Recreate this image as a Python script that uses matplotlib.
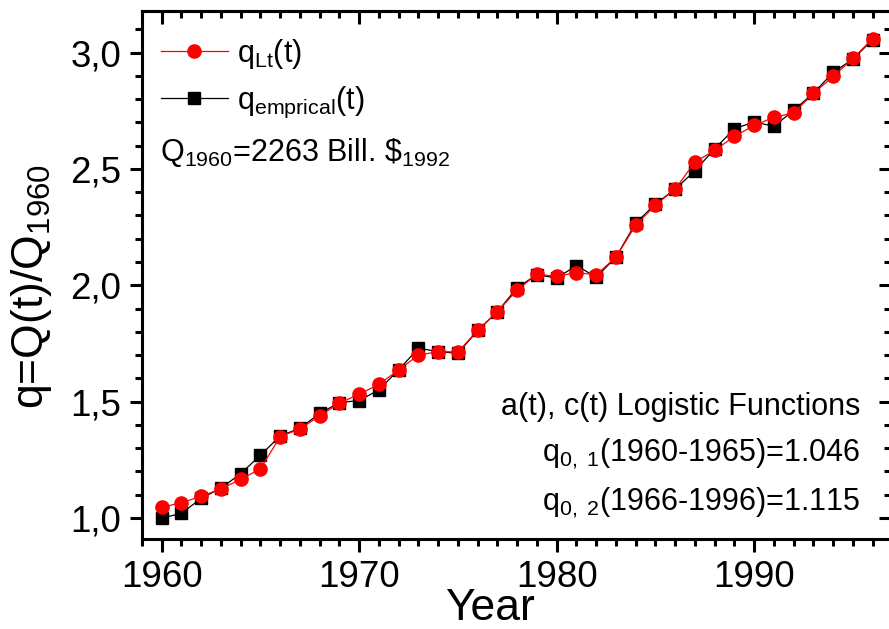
import numpy as np
import matplotlib.pyplot as plt
from matplotlib.ticker import MultipleLocator, FuncFormatter

plt.rcParams['font.family'] = ['Liberation Sans', 'DejaVu Sans']
plt.rcParams['mathtext.fontset'] = 'custom'
plt.rcParams['mathtext.rm'] = 'Liberation Sans'
plt.rcParams['mathtext.it'] = 'Liberation Sans:italic'

years = np.arange(1960, 1997)

# q_Lt(t), logistic fit (red circles)
q_lt = [1.046, 1.066, 1.093, 1.126, 1.166, 1.212, 1.350, 1.383, 1.439, 1.494,
        1.532, 1.575, 1.637, 1.700, 1.715, 1.714, 1.806, 1.887, 1.980, 2.048,
        2.038, 2.055, 2.045, 2.121, 2.259, 2.345, 2.414, 2.530, 2.580, 2.640,
        2.687, 2.722, 2.741, 2.825, 2.898, 2.975, 3.060]

# q_emprical(t) (black squares)
q_emp = [1.000, 1.020, 1.085, 1.128, 1.191, 1.270, 1.353, 1.386, 1.450, 1.496,
         1.505, 1.551, 1.637, 1.730, 1.715, 1.708, 1.806, 1.887, 1.990, 2.046,
         2.031, 2.085, 2.035, 2.121, 2.268, 2.349, 2.414, 2.492, 2.587, 2.673,
         2.702, 2.683, 2.752, 2.826, 2.915, 2.972, 3.056]

fig = plt.figure(figsize=(8.89, 6.29), dpi=100)
ax = fig.add_axes([0.1597, 0.1431, 0.8420, 0.8399])

ax.plot(years, q_emp, color='black', lw=0.9, marker='s', ms=8,
        label=r'q$\mathregular{_{emprical}}$(t)', zorder=3)
ax.plot(years, q_lt, color='red', lw=0.9, marker='o', ms=9.5,
        label=r'q$\mathregular{_{Lt}}$(t)', zorder=4)

ax.set_xlim(1959.0, 1996.9)
ax.set_ylim(0.91, 3.18)

ax.xaxis.set_major_locator(MultipleLocator(10))
ax.xaxis.set_minor_locator(MultipleLocator(1))
ax.yaxis.set_major_locator(MultipleLocator(0.5))
ax.yaxis.set_minor_locator(MultipleLocator(0.1))
ax.yaxis.set_major_formatter(FuncFormatter(lambda v, p: f'{v:.1f}'.replace('.', ',')))

for s in ax.spines.values():
    s.set_linewidth(2.2)

ax.tick_params(which='major', direction='out', length=9, width=2.2, labelsize=26.5, pad=6)
ax.tick_params(which='minor', direction='out', length=5, width=2.2)

secx = ax.secondary_xaxis('top')
secx.xaxis.set_major_locator(MultipleLocator(10))
secx.xaxis.set_minor_locator(MultipleLocator(1))
secx.tick_params(which='major', direction='in', length=9, width=2.2, labeltop=False)
secx.tick_params(which='minor', direction='in', length=5, width=2.2)
secx.spines['top'].set_linewidth(2.2)

secy = ax.secondary_yaxis('right')
secy.yaxis.set_major_locator(MultipleLocator(0.5))
secy.yaxis.set_minor_locator(MultipleLocator(0.1))
secy.tick_params(which='major', direction='in', length=9, width=2.2, labelright=False)
secy.tick_params(which='minor', direction='in', length=5, width=2.2)

ax.set_xlabel('Year', fontsize=32)
ax.xaxis.set_label_coords(0.465, -0.092)
ax.set_ylabel(r'q=Q(t)/Q$\mathregular{_{1960}}$', fontsize=32)
ax.yaxis.set_label_coords(-0.117, 0.478)

handles, labels = ax.get_legend_handles_labels()
ax.legend(handles[::-1], labels[::-1], loc='upper left', bbox_to_anchor=(0.025, 0.950),
          frameon=False, fontsize=22, numpoints=1, handlelength=2.2,
          handletextpad=0.3, labelspacing=0.45, borderaxespad=0, borderpad=0)

ax.text(0.024, 0.7155, r'Q$\mathregular{_{1960}}$=2263 Bill. \$$\mathregular{_{1992}}$',
        transform=ax.transAxes, fontsize=22, va='baseline', ha='left')

ax.text(0.9593, 0.2347, 'a(t), c(t) Logistic Functions', transform=ax.transAxes,
        fontsize=22, va='baseline', ha='right')
ax.text(0.9593, 0.1463, r'q$\mathregular{_{0,\ 1}}$(1960-1965)=1.046', transform=ax.transAxes,
        fontsize=22, va='baseline', ha='right')
ax.text(0.9593, 0.0549, r'q$\mathregular{_{0,\ 2}}$(1966-1996)=1.115', transform=ax.transAxes,
        fontsize=22, va='baseline', ha='right')

fig.savefig('out.png', dpi=100)
